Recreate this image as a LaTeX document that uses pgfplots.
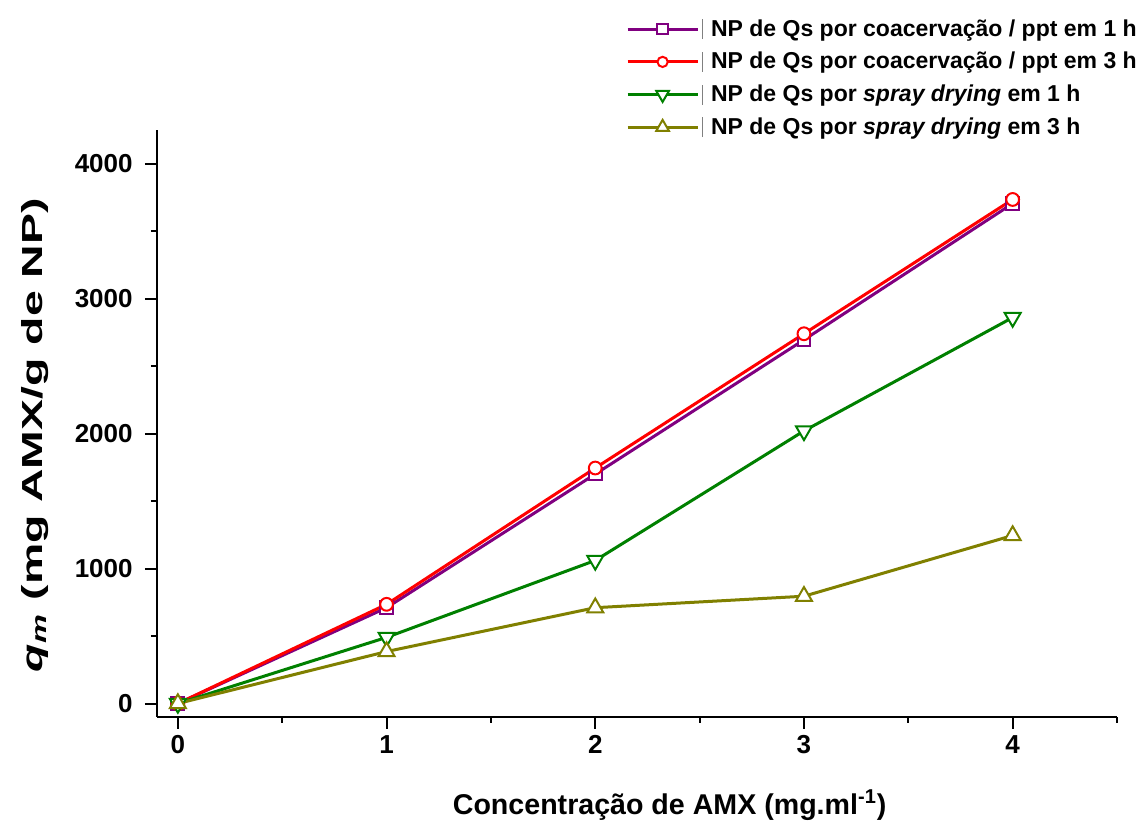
\documentclass[border=0pt]{standalone}
\usepackage{fontspec}
\setmainfont{Liberation Sans}
\usepackage{graphicx}
\usepackage{pgfplots}
\pgfplotsset{compat=1.18}
\definecolor{cpurple}{RGB}{128,0,128}
\definecolor{cred}{RGB}{255,0,0}
\definecolor{cgreen}{RGB}{0,128,0}
\definecolor{colive}{RGB}{128,128,0}
\begin{document}
\begin{tikzpicture}
\useasboundingbox (-78.5pt,-53pt) rectangle (491pt,358.5pt);
\begin{axis}[
  at={(0pt,0pt)}, anchor=south west,
  scale only axis, width=480pt, height=293.5pt,
  xmin=-0.1, xmax=4.5, ymin=-100, ymax=4250,
  clip=false,
  axis x line*=bottom, axis y line*=left,
  axis line style={line width=1pt, black},
  xtick={0,1,2,3,4}, xticklabels={0,1,2,3,4},
  ytick={0,1000,2000,3000,4000}, yticklabels={0,1000,2000,3000,4000},
  minor xtick={0.5,1.5,2.5,3.5,4.5}, minor ytick={500,1500,2500,3500},
  tick align=outside, major tick length=6pt, minor tick length=3pt,
  tick style={line width=1pt, black},
  tick label style={font=\fontsize{13}{15}\selectfont\bfseries},
  yticklabel style={inner sep=0pt, xshift=-6pt},
  xticklabel style={inner sep=0pt, yshift=-3pt},
  every axis x label/.style={at={(axis description cs:0.534,-0.15)}, anchor=center},
  every axis y label/.style={at={(axis description cs:-0.127,0.48)}, rotate=90, anchor=center},
  xlabel={\fontsize{14.3}{16}\selectfont\bfseries Concentração de AMX (mg.ml\textsuperscript{-1})},
  ylabel={\scalebox{1.6}[1]{\fontsize{14.5}{16}\selectfont\bfseries \textit{q}\textsubscript{\textit{m}} (mg AMX/g de NP)}},
  legend style={draw=none, fill=none, at={(axis description cs:0.482,1.1993)}, anchor=north west,
    font=\fontsize{11.5}{13}\selectfont\bfseries, nodes={inner ysep=1pt, inner xsep=2pt}, row sep=4.5pt,
    /tikz/every odd column/.append style={column sep=2pt}},
  legend cell align=left,
  legend image code/.code={
    \draw[#1, mark repeat=2, mark phase=2, every mark/.append style={scale=0.8}] plot coordinates {(0pt,0pt) (17.5pt,0pt) (35pt,0pt)};
    \draw[gray, line width=0.5pt] (37.5pt,-5pt) -- (37.5pt,5pt);
  },
  every axis plot/.append style={line width=1.5pt},
]
\addplot[color=cpurple, mark=square*, mark size=3.2pt, mark options={solid, fill=white, line width=1pt}] coordinates {(0,0) (1,710) (2,1700) (3,2695) (4,3705)};
\addlegendentry{NP de Qs por coacervação / ppt em 1 h}
\addplot[color=cred, mark=*, mark size=3.2pt, mark options={solid, fill=white, line width=1pt}] coordinates {(0,0) (1,735) (2,1745) (3,2740) (4,3735)};
\addlegendentry{NP de Qs por coacervação / ppt em 3 h}
\addplot[color=cgreen, mark=triangle*, mark size=4.6pt, mark options={solid, fill=white, line width=1pt, rotate=180}] coordinates {(0,0) (1,490) (2,1060) (3,2020) (4,2860)};
\addlegendentry{NP de Qs por \textit{spray drying} em 1 h}
\addplot[color=colive, mark=triangle*, mark size=4.6pt, mark options={solid, fill=white, line width=1pt}] coordinates {(0,0) (1,385) (2,710) (3,795) (4,1245)};
\addlegendentry{NP de Qs por \textit{spray drying} em 3 h}
\end{axis}
\end{tikzpicture}
\end{document}
